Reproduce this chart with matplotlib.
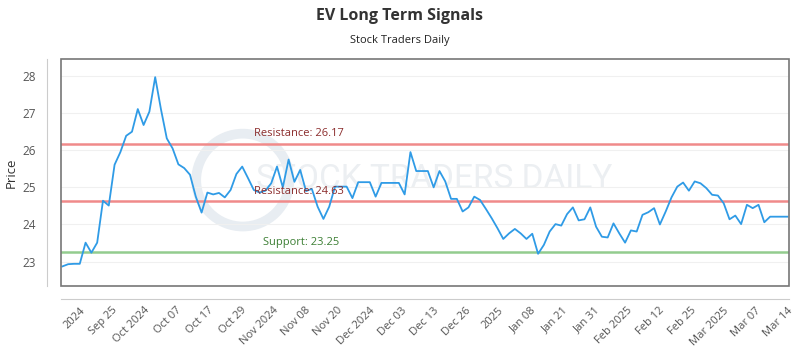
import numpy as np
import matplotlib
matplotlib.use("Agg")
import matplotlib.pyplot as plt
from matplotlib.patches import Rectangle, Ellipse

plt.rcParams['font.family'] = ['Open Sans', 'DejaVu Sans']

# closing prices, one per trading day
prices = [
    22.87, 22.93, 22.94, 22.94, 23.51, 23.24, 23.51, 24.64, 24.51, 25.61,
    25.95, 26.39, 26.50, 27.11, 26.68, 27.04, 27.97, 27.10, 26.32, 26.05,
    25.62, 25.52, 25.34, 24.75, 24.32, 24.86, 24.81, 24.85, 24.73, 24.93,
    25.36, 25.56, 25.25, 24.93, 24.86, 24.91, 25.11, 25.56, 25.00, 25.75,
    25.15, 25.47, 24.90, 24.96, 24.48, 24.15, 24.48, 25.02, 25.02, 25.02,
    24.71, 25.14, 25.14, 25.14, 24.75, 25.12, 25.12, 25.12, 25.12, 24.81,
    25.95, 25.44, 25.44, 25.44, 25.00, 25.44, 25.16, 24.69, 24.69, 24.35,
    24.46, 24.75, 24.66, 24.42, 24.17, 23.90, 23.61, 23.76, 23.88, 23.76,
    23.61, 23.75, 23.21, 23.45, 23.81, 24.01, 23.97, 24.28, 24.46, 24.11,
    24.14, 24.46, 23.94, 23.67, 23.65, 24.03, 23.76, 23.51, 23.84, 23.81,
    24.26, 24.33, 24.44, 24.00, 24.35, 24.73, 25.02, 25.13, 24.91, 25.16,
    25.11, 24.98, 24.80, 24.78, 24.57, 24.14, 24.24, 24.01, 24.53, 24.44,
    24.53, 24.06, 24.21, 24.21, 24.21, 24.21,
]

tick_labels = ['2024', 'Sep 25', 'Oct 2024', 'Oct 07', 'Oct 17', 'Oct 29',
               'Nov 2024', 'Nov 08', 'Nov 20', 'Dec 2024', 'Dec 03', 'Dec 13',
               'Dec 26', '2025', 'Jan 08', 'Jan 21', 'Jan 31', 'Feb 2025',
               'Feb 12', 'Feb 25', 'Mar 2025', 'Mar 07', 'Mar 14']

resistance_hi = 26.17
resistance_lo = 24.63
support = 23.25

x = np.arange(len(prices))

fig = plt.figure(figsize=(8, 3.5), dpi=100)
ax = fig.add_axes([0.076, 0.184, 0.910, 0.647])

# watermark (logo ring + name)
ax.add_patch(Ellipse((0.25, 0.466), 0.128, 0.41, transform=ax.transAxes,
                     facecolor='none', edgecolor='#e8edf2', linewidth=7, zorder=0))
ax.text(0.268, 0.47, 'STOCK TRADERS DAILY', transform=ax.transAxes,
        fontsize=24, color='#eceff2', ha='left', va='center', zorder=0,
        family=['Roboto', 'DejaVu Sans'])

ax.axhline(resistance_hi, color='#f08a8a', linewidth=1.8, zorder=2)
ax.axhline(resistance_lo, color='#f08a8a', linewidth=1.8, zorder=2)
ax.axhline(support, color='#93cc8e', linewidth=1.8, zorder=2)

ax.plot(x, prices, color='#2f9be6', linewidth=1.3, zorder=3)

ax.text(33, resistance_hi + 0.12, f'Resistance: {resistance_hi}', color='#8b2c2c',
        fontsize=8, va='bottom', ha='left')
ax.text(33, resistance_lo + 0.12, f'Resistance: {resistance_lo}', color='#8b2c2c',
        fontsize=8, va='bottom', ha='left')
ax.text(34.5, support + 0.12, f'Support: {support}', color='#3c7f34',
        fontsize=8, va='bottom', ha='left')

ax.set_xlim(-0.27, len(prices) - 1 + 0.22)
ax.set_ylim(22.353, 28.455)
ax.set_yticks([23, 24, 25, 26, 27, 28])
ax.set_xticks(np.linspace(3, len(prices) - 1, len(tick_labels)))
ax.set_xticklabels(tick_labels)

ax.grid(axis='y', color='#f0f0f0', linewidth=0.8, zorder=0)
ax.set_axisbelow(True)

for side in ['top', 'right']:
    ax.spines[side].set_visible(False)
for side in ['left', 'bottom']:
    ax.spines[side].set_position(('outward', 10))
    ax.spines[side].set_color('#cccccc')
ax.add_patch(Rectangle((0, 0), 1, 1, transform=ax.transAxes, fill=False,
                       edgecolor='#777777', linewidth=1.2, clip_on=False, zorder=4))

ax.tick_params(axis='y', length=0, colors='#555555', labelsize=8.5, pad=8)
ax.tick_params(axis='x', length=0, colors='#555555', labelsize=8, pad=4)
plt.setp(ax.get_xticklabels(), rotation=45, ha='right', rotation_mode='anchor')
ax.set_ylabel('Price', fontsize=9.5, color='#333333', labelpad=3)

fig.text(0.5, 0.955, 'EV Long Term Signals', ha='center', va='center',
         fontsize=11.5, fontweight='bold', color='#333333')
fig.text(0.5, 0.885, 'Stock Traders Daily', ha='center', va='center',
         fontsize=8, color='#222222')

fig.savefig('out.png', dpi=100)
